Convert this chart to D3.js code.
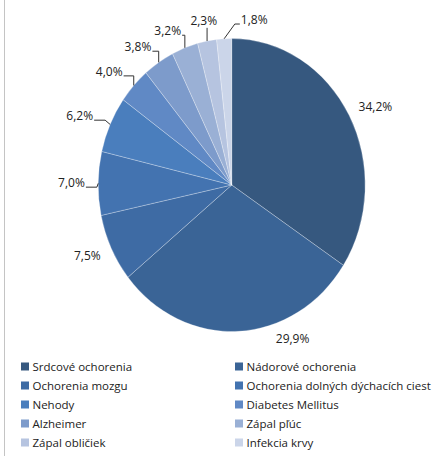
<!DOCTYPE html>
<html>
<head>
<meta charset="utf-8">
<script src="https://cdn.jsdelivr.net/npm/d3@7"></script>
<style>
  html, body { margin: 0; padding: 0; background: #fff; }
  svg { display: block; }
  text { font-family: "Open Sans", sans-serif; fill: #222; }
</style>
</head>
<body>
<svg id="chart" width="438" height="456"></svg>
<script>
// ---- data ----
const categories = [
  "Srdcové ochorenia", "Nádorové ochorenia", "Ochorenia mozgu",
  "Ochorenia dolných dýchacích ciest", "Nehody", "Diabetes Mellitus",
  "Alzheimer", "Zápal pľúc", "Zápal obličiek", "Infekcia krvy"
];
const values = [34.2, 29.9, 7.5, 7.0, 6.2, 4.0, 3.8, 3.2, 2.3, 1.8];
const colors = [
  "#36587f", "#3a6496", "#3e6ba4", "#4373b0", "#4a7ebd",
  "#6089c5", "#7d9bcb", "#9ab0d5", "#b6c4e0", "#cbd5e9"
];
// small angular nudges (degrees) for labels Excel moved off the slice centre
const labelNudge = [0, -19, 0, 0, 0, 0, -1, -2, 1, 11];

// ---- layout ----
const svg = d3.select("#chart");
const W = 438, H = 456;
const cx = 231.7, cy = 185, rx = 133.5, ry = 146.5;
const fmt = v => d3.format(".1f")(v).replace(".", ",") + "%";

// left border
svg.append("line").attr("x1", 4.5).attr("x2", 4.5).attr("y1", 0).attr("y2", H)
  .attr("stroke", "#c4c4c4").attr("stroke-width", 1);

const pie = d3.pie().sort(null).value(d => d);
const arcs = pie(values);
const arc = d3.arc().innerRadius(0).outerRadius(rx);

const g = svg.append("g")
  .attr("transform", `translate(${cx},${cy}) scale(1,${ry / rx})`);
g.selectAll("path").data(arcs).join("path")
  .attr("d", arc)
  .attr("fill", (d, i) => colors[i])
  .attr("stroke", "rgba(255,255,255,0.35)")
  .attr("stroke-width", 0.8)
  .attr("vector-effect", "non-scaling-stroke");

const edge = (a, gx = 0, gy = 0) => [cx + (rx + gx) * Math.sin(a), cy - (ry + gy) * Math.cos(a)];

// labels (slices narrower than ~26° get an outside label with a leader line)
const lg = svg.append("g");
const leaders = svg.append("g");
arcs.forEach((d, i) => {
  const mid = (d.startAngle + d.endAngle) / 2;
  const span = (d.endAngle - d.startAngle) * 180 / Math.PI;
  const withLeader = span < 26;
  const a = mid + labelNudge[i] * Math.PI / 180;
  const t = lg.append("text").attr("font-size", 12).attr("text-anchor", "middle")
    .attr("dy", "0.35em").text(fmt(values[i]));
  const w = t.node().getBBox().width, h = 12;
  const gx = withLeader ? 13 + 7 * Math.min(1, 4 * Math.abs(Math.cos(a))) : 13;
  const gy = withLeader ? 14 : 13;
  const p = edge(a, gx, gy);
  const lx = p[0] + Math.sin(a) * w / 2;
  const ly = p[1] - Math.cos(a) * h / 2;
  t.attr("x", lx).attr("y", ly);
  if (!withLeader) return;

  const E = edge(mid);
  const left = lx - w / 2, right = lx + w / 2, bottom = ly + h / 2;
  const yl = ly + 4;
  let pts;
  if (E[0] >= left && E[0] <= right) {
    pts = [[E[0], bottom + 1], E];
  } else if (right < E[0]) {
    pts = [[right + 1, yl], [Math.min(E[0], right + 12), yl], E];
  } else {
    pts = [[left - 1, yl], [Math.max(E[0], left - 6), yl], E];
  }
  leaders.append("path").attr("d", d3.line()(pts))
    .attr("fill", "none").attr("stroke", "#333").attr("stroke-width", 1);
});

// legend
const legendRows = [366.5, 385.5, 404.5, 423.5, 442.5];
const legendCols = [21, 235];
const leg = svg.append("g");
categories.forEach((c, i) => {
  const col = i % 2, row = Math.floor(i / 2);
  const x = legendCols[col], y = legendRows[row];
  leg.append("rect").attr("x", x).attr("y", y - 4).attr("width", 8).attr("height", 8)
    .attr("fill", colors[i]);
  leg.append("text").attr("x", x + 11.5).attr("y", y).attr("dy", "0.35em")
    .attr("font-size", 11.5).text(c);
});
</script>
</body>
</html>
